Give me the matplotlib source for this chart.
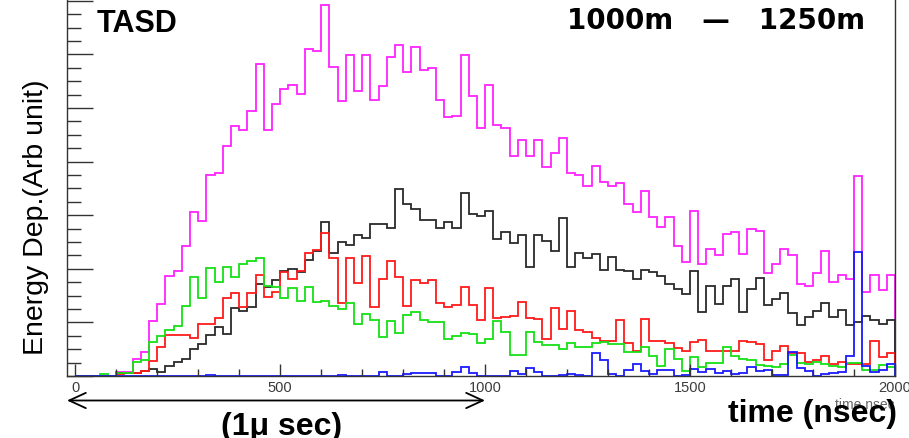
import numpy as np
import matplotlib.pyplot as plt
from matplotlib.ticker import MultipleLocator

plt.rcParams['font.family'] = ['Liberation Sans', 'DejaVu Sans']

# time bins (nsec), 20 ns wide
bin_edges = np.arange(0, 2001, 20)

# energy deposit per bin (arb. unit)
magenta = [0, 0, 0, 0, 0, 4.3, 4.3, 17, 24.3, 55.3,
           72, 99.7, 105.3, 129.7, 163.7, 155.3, 201, 203, 230.3, 250.3,
           246.3, 265.3, 312, 246.3, 272.3, 287, 291, 282, 327, 324.7,
           371, 309.3, 275.3, 321.3, 284.7, 321.3, 276.3, 289.7, 318.7, 331,
           304.3, 329.3, 306.3, 307.7, 276.3, 258.7, 260, 321.3, 280.3, 248,
           291, 251.3, 247.7, 220.3, 236.3, 220.3, 236.3, 209.3, 223, 238,
           203, 201, 190.3, 210.3, 193.7, 190.3, 193, 172, 163.7, 185.3,
           158.7, 149.3, 158.7, 130.3, 113.7, 165.3, 112, 127, 121, 142,
           143.7, 122, 147, 144.7, 102.7, 112, 127, 121.3, 92, 89.7,
           102.7, 125.3, 93.7, 101, 97, 199.7, 84.3, 101, 86.3, 101]

black = [0, 0, 0, 0, 0, 3, 3, 3, 5.3, 7,
         4.3, 10.3, 13.7, 17, 27, 32, 41.3, 48.7, 42, 67.7,
         65.3, 68.7, 92, 88.7, 96.3, 105.3, 107.5, 104, 116.2, 125.3,
         154.3, 123, 134, 131.2, 141, 137.7, 152, 152, 147.7, 187,
         172, 167, 156, 156, 147.7, 154.3, 147.7, 183, 162, 160.3,
         165.3, 137, 144.3, 133, 141, 109.3, 141, 135.3, 125.3, 158,
         109.3, 122.7, 117.7, 122, 106, 118.7, 106, 105.3, 97, 106,
         104.3, 99.7, 92, 87, 82, 105.3, 63.7, 89.7, 72, 89.7,
         97, 63.7, 87, 97.7, 71, 77, 82.7, 62.7, 51, 58.7,
         65.3, 73, 59.3, 66.3, 51.3, 54.3, 60.3, 56.3, 52, 56]

red = [0, 0, 0, 0, 0, 2, 3, 3, 5, 15.3,
       28.7, 41, 41, 41, 37.7, 52, 52, 57.7, 77.7, 83,
       68.7, 83, 101, 78.7, 84.3, 103.7, 97, 105.3, 123, 126,
       142.7, 117.7, 73, 117.7, 93, 120.3, 68.7, 97, 115.3, 98.7,
       69.7, 96.3, 93, 96.3, 73, 68.7, 71, 88.7, 71, 56.3,
       87.7, 58, 59.5, 60, 73.7, 58, 57, 37.5, 68, 47.5,
       65.3, 46, 44.3, 37.7, 35.3, 35.3, 56, 32.7, 25.3, 57,
       35.3, 35.3, 33, 27.7, 25.3, 33.7, 36.3, 24.7, 24.7, 24.7,
       24.7, 35.3, 33.7, 32, 16.3, 24.7, 30.3, 22.7, 23, 14.3,
       16, 20.3, 12, 13.7, 12, 12, 12, 35.3, 19, 23]

green = [0, 0, 0, 2, 0, 3, 3, 14, 16.3, 33.7,
         40, 46.5, 50.3, 70.5, 99, 78, 107.7, 94.3, 109, 98.7,
         112.3, 115, 117.7, 90, 89, 77.7, 88, 75.5, 88.7, 73.7,
         75.3, 69.7, 67, 73, 52, 62, 56.3, 38.7, 55.3, 43,
         61, 63.7, 56, 54.3, 54.3, 37, 40, 43, 42, 33,
         37, 55.3, 43.7, 21, 21, 43.7, 34.3, 31, 31, 27,
         33, 28.7, 28.7, 33, 34.3, 32, 32, 24.3, 24.3, 28.7,
         19.7, 9.7, 27, 17, 5.3, 18.7, 8.7, 13, 13, 28.7,
         20.3, 17, 16.3, 11, 9.7, 8.7, 12, 21, 13, 12,
         14.3, 12, 10, 8.7, 13, 13, 6.3, 6.3, 11, 8.7]

blue = [0, 0, 0, 0, 0, 0, 0, 0, 0, 0,
        0, 0, 0, 0, 0, 0, 1, 0, 0, 0,
        0, 0, 0, 0, 0, 0, 0, 0, 0, 0,
        0, 0, 1.3, 0, 0, 0, 0, 4, 0, 0,
        2.3, 3.3, 3.3, 3.3, 0, 0, 4, 9.3, 3, 0,
        0, 0, 0, 5.3, 2, 8, 4.5, 0, 0, 1.3,
        2.5, 1.3, 0, 23, 16, 2.5, 0, 6, 12, 5.5,
        2.5, 6, 6.5, 0.5, 1, 7, 4.5, 7, 3, 5.5,
        2, 3.5, 9, 5, 6, 1, 1, 24.3, 8, 5,
        0, 2, 3, 4, 20.3, 124.3, 10.3, 4, 6, 12]

series = [(magenta, '#ff22ff'), (black, '#2a2a2a'), (red, '#ff1a1a'),
          (green, '#16e016'), (blue, '#1a1aff')]

W, H = 909, 439
fig = plt.figure(figsize=(W / 100, H / 100), dpi=100)
ax = fig.add_axes([67 / W, 1 - 377 / H, (895 - 67) / W, 377 / H])

for vals, col in series:
    ax.stairs(vals, bin_edges, color=col, lw=1.3, clip_on=False)

ax.set_xlim(-20, 2000)
ax.set_ylim(0, 377)

ax.xaxis.set_major_locator(MultipleLocator(500))
ax.xaxis.set_minor_locator(MultipleLocator(100))
ax.yaxis.set_major_locator(MultipleLocator(53.6))
ax.yaxis.set_minor_locator(MultipleLocator(13.4))

ax.tick_params(axis='x', which='major', direction='in', length=9, width=1,
               color='#333333', labelsize=10.5, labelcolor='#3c3c3c', pad=3)
ax.tick_params(axis='x', which='minor', direction='in', length=5, width=1,
               color='#333333')
ax.tick_params(axis='y', which='major', direction='in', length=19, width=1,
               color='#333333', labelleft=False)
ax.tick_params(axis='y', which='minor', direction='in', length=10, width=1,
               color='#333333')

ax.spines['top'].set_visible(False)
for s in ['left', 'right', 'bottom']:
    ax.spines[s].set_color('#333333')
    ax.spines[s].set_linewidth(1)


def fx(px):
    return px / W


def fy(py):
    return 1 - py / H


fig.text(fx(97), fy(32), 'TASD', fontsize=22, fontweight='bold', va='baseline')
fig.text(fx(716), fy(29), '1000m   \u2014   1250m', fontsize=20,
         family='DejaVu Sans', fontweight='bold', ha='center', va='baseline')
fig.text(fx(36), fy(217), 'Energy Dep.(Arb unit)', fontsize=20.5,
         rotation=90, ha='center', va='center')

fig.text(fx(895), fy(409), 'time nsec', fontsize=10, color='#666666',
         ha='right', va='baseline')
fig.text(fx(897), fy(422), 'time (nsec)', fontsize=23, fontweight='bold',
         ha='right', va='baseline')
fig.text(fx(282), fy(435), '(1\u03bc sec)', fontsize=23, fontweight='bold',
         ha='center', va='baseline')

ax.annotate('', xy=(fx(67), fy(401.5)), xytext=(fx(485), fy(401.5)),
            xycoords='figure fraction', textcoords='figure fraction',
            arrowprops=dict(arrowstyle='<->,head_length=1.2,head_width=0.55',
                            lw=1.3, color='black', shrinkA=0, shrinkB=0))

fig.savefig('out.png', dpi=100)
